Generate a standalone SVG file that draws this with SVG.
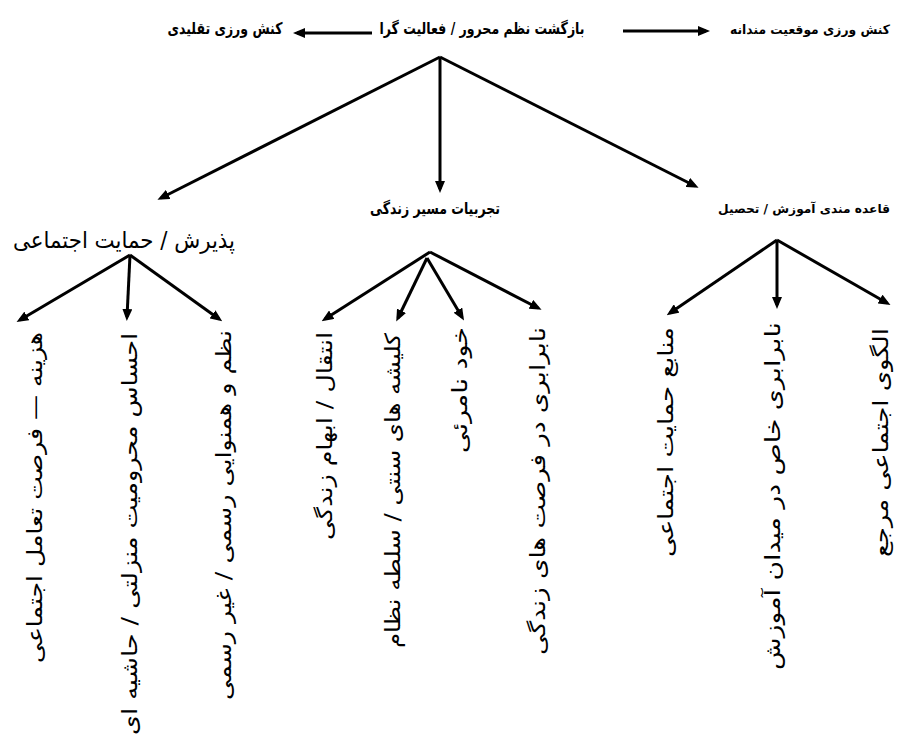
<svg xmlns="http://www.w3.org/2000/svg" width="898" height="737" viewBox="0 0 898 737">
<style>
.h{font-family:"DejaVu Sans",sans-serif;font-size:16px;font-weight:bold;fill:#000;text-anchor:middle}
.hr{font-size:13px;text-anchor:end}
.hs{font-size:12px}
.big{font-family:"DejaVu Sans",sans-serif;font-size:23px;fill:#000;text-anchor:middle}
.v{font-family:"DejaVu Sans",sans-serif;font-size:21px;fill:#000;text-anchor:end}
.c line{stroke:#000;stroke-width:3;fill:none;marker-end:url(#ah)}
</style>
<defs>
<marker id="ah" markerUnits="userSpaceOnUse" markerWidth="12" markerHeight="10" refX="8" refY="5" orient="auto">
<path d="M0,0 L12,5 L0,10 z" fill="#000"/>
</marker>
</defs>
<rect width="898" height="737" fill="#fff"/>
<g class="c" id="connectors">
<line x1="372" y1="33" x2="297" y2="33"/>
<line x1="623" y1="31" x2="706" y2="31"/>
<line x1="440" y1="57" x2="161" y2="198"/>
<line x1="440" y1="57" x2="440" y2="189"/>
<line x1="440" y1="57" x2="695" y2="186"/>
<line x1="130" y1="255" x2="20" y2="320"/>
<line x1="130" y1="255" x2="127" y2="317"/>
<line x1="130" y1="255" x2="219" y2="319"/>
<line x1="430" y1="252" x2="325" y2="319"/>
<line x1="427" y1="258" x2="398" y2="318"/>
<line x1="427" y1="258" x2="462" y2="317"/>
<line x1="430" y1="252" x2="538" y2="308"/>
<line x1="777" y1="240" x2="670" y2="313"/>
<line x1="777" y1="240" x2="777" y2="305"/>
<line x1="777" y1="240" x2="887" y2="303"/>
</g>
<g id="n-root"><text class="h" x="482" y="34" textLength="205" lengthAdjust="spacingAndGlyphs">بازگشت نظم محرور / فعالیت گرا</text></g>
<g id="n-taghlidi"><text class="h" x="225" y="34" textLength="115" lengthAdjust="spacingAndGlyphs">کنش ورزی تقلیدی</text></g>
<g id="n-mogheiat"><text class="h hr" x="890" y="34" textLength="160" lengthAdjust="spacingAndGlyphs">کنش ورزی موقعیت مندانه</text></g>
<g id="n-paziresh"><text class="big" x="124" y="248" textLength="222" lengthAdjust="spacingAndGlyphs">پذیرش / حمایت اجتماعی</text></g>
<g id="n-tajrobiat"><text class="h" x="435" y="214" textLength="130" lengthAdjust="spacingAndGlyphs">تجربیات مسیر زندگی</text></g>
<g id="n-ghaedeh"><text class="h hr hs" x="890" y="213" textLength="172" lengthAdjust="spacingAndGlyphs">قاعده مندی آموزش / تحصیل</text></g>
<g id="n-l1"><text class="v" x="42" y="332" transform="rotate(-90 42 332)" textLength="331" lengthAdjust="spacingAndGlyphs">هزینه — فرصت تعامل اجتماعی</text></g>
<g id="n-l2"><text class="v" x="137" y="333" transform="rotate(-90 137 333)" textLength="402" lengthAdjust="spacingAndGlyphs">احساس محرومیت منزلتی / حاشیه ای</text></g>
<g id="n-l3"><text class="v" x="231" y="330" transform="rotate(-90 231 330)" textLength="370" lengthAdjust="spacingAndGlyphs">نظم و همنوایی رسمی / غیر رسمی</text></g>
<g id="n-m1"><text class="v" x="332" y="332" transform="rotate(-90 332 332)" textLength="208" lengthAdjust="spacingAndGlyphs">انتقال / ابهام زندگی</text></g>
<g id="n-m2"><text class="v" x="400" y="333" transform="rotate(-90 400 333)" textLength="315" lengthAdjust="spacingAndGlyphs">کلیشه های سنتی / سلطه نظام</text></g>
<g id="n-m3"><text class="v" x="467" y="327" transform="rotate(-90 467 327)" textLength="126" lengthAdjust="spacingAndGlyphs">خود نامرئی</text></g>
<g id="n-m4"><text class="v" x="545" y="327" transform="rotate(-90 545 327)" textLength="328" lengthAdjust="spacingAndGlyphs">نابرابری در فرصت های زندگی</text></g>
<g id="n-r1"><text class="v" x="673" y="327" transform="rotate(-90 673 327)" textLength="230" lengthAdjust="spacingAndGlyphs">منابع حمایت اجتماعی</text></g>
<g id="n-r2"><text class="v" x="780" y="322" transform="rotate(-90 780 322)" textLength="348" lengthAdjust="spacingAndGlyphs">نابرابری خاص در میدان آموزش</text></g>
<g id="n-r3"><text class="v" x="888" y="328" transform="rotate(-90 888 328)" textLength="229" lengthAdjust="spacingAndGlyphs">الگوی اجتماعی مرجع</text></g>
</svg>
